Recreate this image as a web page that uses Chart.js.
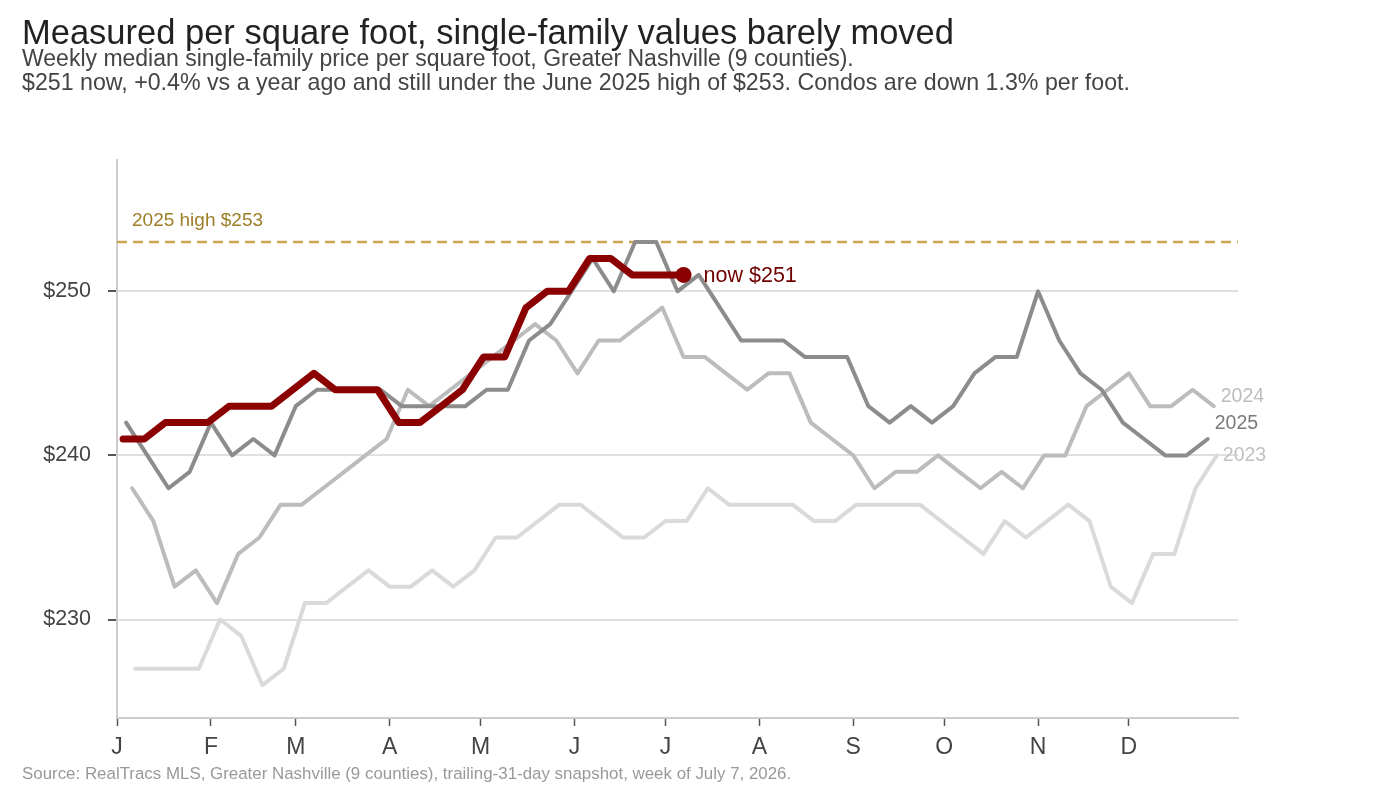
<!DOCTYPE html>
<html><head><meta charset="utf-8">
<script src="https://cdn.jsdelivr.net/npm/chart.js@4.4.1/dist/chart.umd.min.js"></script>
<style>
html,body{margin:0;padding:0;background:#fff;}
body{width:1376px;height:800px;position:relative;overflow:hidden;font-family:"Liberation Sans",Arial,Helvetica,sans-serif;}
#wrap{position:absolute;left:0;top:0;width:1376px;height:800px;}
.t{position:absolute;left:22px;white-space:nowrap;line-height:1;}
#title{top:15px;font-size:34.5px;color:#222;}
#sub1{top:47px;font-size:23px;color:#444;}
#sub2{top:71px;font-size:23.2px;color:#444;}
#src{top:766px;font-size:16.9px;color:#999;}
</style></head><body>
<div id="wrap"><canvas id="c" width="1376" height="800"></canvas></div>
<div class="t" id="title">Measured per square foot, single-family values barely moved</div>
<div class="t" id="sub1">Weekly median single-family price per square foot, Greater Nashville (9 counties).</div>
<div class="t" id="sub2">$251 now, +0.4% vs a year ago and still under the June 2025 high of $253. Condos are down 1.3% per foot.</div>
<div class="t" id="src">Source: RealTracs MLS, Greater Nashville (9 counties), trailing-31-day snapshot, week of July 7, 2026.</div>
<script>
// ---- data ----
const monthLabels = ['J','F','M','A','M','J','J','A','S','O','N','D'];
const monthStartDays = [0,31,59,90,120,151,181,212,243,273,304,334];
const yTicks = [230,240,250];
const high2025 = 253;

const firstWeek2023 = '2023-01-07';
const firstWeek2024 = '2024-01-06';
const firstWeek2025 = '2025-01-04';
const firstWeek2026 = '2026-01-03';
const nowDate2026 = '2026-07-07';
const nowValue2026 = 251;

const values2023 = [227,227,227,227,230,229,226,227,231,231,
                    232,233,232,232,233,232,233,235,235,236,
                    237,237,236,235,235,236,236,238,237,237,
                    237,237,236,236,237,237,237,237,236,235,
                    234,236,235,236,237,236,232,231,234,234,
                    238,240];
const values2024 = [238,236,232,233,231,234,235,237,237,238,
                    239,240,241,244,243,244,245,246,247,248,
                    247,245,247,247,248,249,246,246,245,244,
                    245,245,242,241,240,238,239,239,240,239,
                    238,239,238,240,240,243,244,245,243,243,
                    244,243];
const values2025 = [242,240,238,239,242,240,241,240,243,244,
                    244,244,244,243,243,243,243,244,244,247,
                    248,250,252,250,253,253,250,251,249,247,
                    247,247,246,246,246,243,242,243,242,243,
                    245,246,246,250,247,245,244,242,241,240,
                    240,241];
const values2026 = [241,241,242,242,242,243,243,243,244,245,
                    244,244,244,242,242,243,244,246,246,249,
                    250,250,252,252,251,251];

// ---- helpers ----
function dayOfYear(iso){
  const [y,m,d] = iso.split('-').map(Number);
  return (Date.UTC(y,m-1,d) - Date.UTC(y,0,1)) / 864e5;
}
function weekly(firstIso, values){
  const d0 = dayOfYear(firstIso);
  return values.map((v,i)=>({x: d0 + 7*i, y: v}));
}
const pts2023 = weekly(firstWeek2023, values2023);
const pts2024 = weekly(firstWeek2024, values2024);
const pts2025 = weekly(firstWeek2025, values2025);
const pts2026 = weekly(firstWeek2026, values2026).concat([{x: dayOfYear(nowDate2026), y: nowValue2026}]);

const FONT = '"Liberation Sans", Arial, Helvetica, sans-serif';

const annot = {
  id: 'annot',
  beforeDatasetsDraw(chart){
    const {ctx, chartArea, scales:{y}} = chart;
    const yy = y.getPixelForValue(high2025);
    ctx.save();
    ctx.strokeStyle = '#c9a552';
    ctx.lineWidth = 2.5;
    ctx.setLineDash([10,6]);
    ctx.beginPath();
    ctx.moveTo(chartArea.left, yy);
    ctx.lineTo(chartArea.right, yy);
    ctx.stroke();
    ctx.restore();
  },
  afterDatasetsDraw(chart){
    const {ctx, chartArea, scales:{x,y}} = chart;
    ctx.save();
    ctx.textBaseline = 'middle';
    ctx.textAlign = 'left';
    // high label
    ctx.font = '19px ' + FONT;
    ctx.fillStyle = '#9c7e27';
    ctx.fillText('2025 high $' + high2025, chartArea.left + 15, y.getPixelForValue(high2025) - 21);
    // now label
    const last = pts2026[pts2026.length-1];
    ctx.font = '21.5px ' + FONT;
    ctx.fillStyle = '#6e0000';
    ctx.fillText('now $' + last.y, x.getPixelForValue(last.x) + 20, y.getPixelForValue(last.y) + 1);
    // series end labels
    ctx.font = '19.5px ' + FONT;
    const ends = [
      {p: pts2024[pts2024.length-1], t: '2024', c: '#bdbdbd', dx: 7, dy: -10},
      {p: pts2025[pts2025.length-1], t: '2025', c: '#7a7a7a', dx: 7, dy: -15},
      {p: pts2023[pts2023.length-1], t: '2023', c: '#c2c2c2', dx: 6, dy: 0}
    ];
    ends.forEach(e=>{
      ctx.fillStyle = e.c;
      ctx.fillText(e.t, x.getPixelForValue(e.p.x) + e.dx, y.getPixelForValue(e.p.y) + e.dy);
    });
    ctx.restore();
  }
};

const lineBase = {
  tension: 0, pointRadius: 0, borderCapStyle: 'round', borderJoinStyle: 'round', fill: false
};

new Chart(document.getElementById('c'), {
  type: 'line',
  data: {
    datasets: [
      Object.assign({}, lineBase, {label: '2026', data: pts2026, borderColor: '#8b0000', backgroundColor: '#8b0000', borderWidth: 7, order: 0,
        pointRadius: ctx => ctx.dataIndex === pts2026.length-1 ? 8 : 0, pointBorderWidth: 0}),
      Object.assign({}, lineBase, {label: '2025', data: pts2025, borderColor: '#8c8c8c', borderWidth: 4, order: 1}),
      Object.assign({}, lineBase, {label: '2024', data: pts2024, borderColor: '#bcbcbc', borderWidth: 4, order: 2}),
      Object.assign({}, lineBase, {label: '2023', data: pts2023, borderColor: '#dadada', borderWidth: 4, order: 3})
    ]
  },
  options: {
    responsive: false, animation: false, devicePixelRatio: 1,
    layout: {padding: {left: 0, top: 160, right: 138, bottom: 0}},
    plugins: {legend: {display: false}, tooltip: {enabled: false}, title: {display: false}},
    scales: {
      x: {
        type: 'linear', min: 0, max: 370,
        afterBuildTicks: s => { s.ticks = monthStartDays.map(v => ({value: v})); },
        afterFit: s => { s.height = 82; },
        ticks: {
          autoSkip: false, maxRotation: 0, padding: 8,
          color: '#444', font: {family: FONT, size: 23},
          callback: (v) => monthLabels[monthStartDays.indexOf(v)]
        },
        grid: {display: true, drawOnChartArea: false, drawTicks: true, tickLength: 8, tickColor: '#555', tickWidth: 1.5},
        border: {display: true, color: '#cccccc', width: 2}
      },
      y: {
        min: 224, max: 258,
        afterBuildTicks: s => { s.ticks = yTicks.map(v => ({value: v})); },
        afterFit: s => { s.width = 117; },
        ticks: {
          padding: 17, color: '#444', font: {family: FONT, size: 21.5},
          callback: v => '$' + v
        },
        grid: {color: '#e0e0e0', lineWidth: 2, drawTicks: true, tickLength: 9, tickColor: '#555', tickWidth: 2},
        border: {display: true, color: '#cccccc', width: 2}
      }
    }
  },
  plugins: [annot]
});
</script>
</body></html>
